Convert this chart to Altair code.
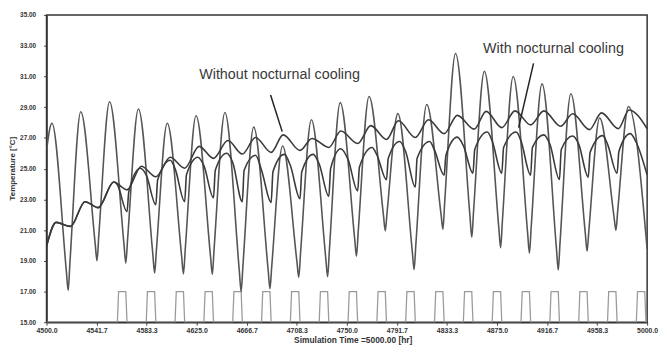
import altair as alt
import pandas as pd

# ---------------- data ----------------
# Outdoor (ambient) temperature: daily peaks (~16:30) and troughs (~06:00)
amb_start = [4500.0, 26.2]
amb_peak_t = [4504.5 + 24 * k for k in range(21)]
amb_peak_v = [27.95, 28.70, 29.35, 28.88, 27.95, 28.44, 28.65, 27.70, 26.47, 28.18,
              29.30, 29.70, 28.58, 29.17, 32.50, 31.33, 31.00, 30.52, 29.88, 28.30, 29.05]
amb_trough_t = [4518 + 24 * k for k in range(20)]
amb_trough_v = [17.08, 19.00, 18.85, 18.20, 18.15, 18.12, 17.00, 17.19, 17.93, 17.96,
                19.30, 20.95, 18.43, 21.05, 20.53, 19.85, 19.50, 18.40, 19.63, 20.98]
# values on the V flanks, 1.5 h before / after each trough
amb_pre_v = [18.33, 20.12, 20.06, 19.43, 19.28, 19.31, 18.34, 18.40, 18.91, 19.14,
             20.45, 21.96, 19.60, 21.98, 21.91, 21.17, 20.82, 19.79, 20.81, 21.82]
amb_post_v = [18.90, 20.62, 20.42, 19.73, 19.77, 19.77, 18.68, 18.65, 19.54, 19.74,
              20.93, 22.15, 20.12, 22.85, 22.23, 21.60, 21.23, 20.20, 20.99, 22.25]
amb_end = [5000.0, 19.75]

# Indoor, without nocturnal cooling
wo_t = [4500, 4508, 4520, 4532, 4543, 4556, 4567, 4579, 4591, 4603, 4615, 4627, 4639,
        4651, 4663, 4674, 4687, 4697, 4711, 4721, 4735, 4745, 4759, 4770, 4783, 4793,
        4807, 4818, 4831, 4842, 4856, 4866, 4879, 4890, 4903, 4914, 4928, 4938, 4952,
        4962, 4976, 4985, 5000]
wo_v = [19.95, 21.50, 21.24, 22.85, 22.46, 24.13, 23.62, 25.16, 24.47, 25.74, 25.03,
        26.45, 25.67, 26.83, 25.95, 27.03, 26.06, 27.20, 26.19, 26.96, 26.38, 27.45,
        26.64, 27.80, 26.90, 28.12, 27.03, 28.18, 27.28, 28.47, 27.57, 28.73, 27.67,
        28.76, 27.85, 28.76, 27.76, 28.57, 27.54, 28.63, 27.60, 28.82, 27.60]

# Indoor, with nocturnal cooling
w_t = [4500, 4508, 4520, 4532, 4543, 4556, 4559,
       4567, 4568.5, 4578,
       4583, 4591, 4592.5, 4603,
       4607, 4615, 4616.5, 4626,
       4631, 4639, 4640.5, 4650,
       4655, 4663, 4664.5, 4674,
       4679, 4687, 4688.5, 4698,
       4703, 4711, 4712.5, 4722,
       4727, 4735, 4736.5, 4745,
       4751, 4759, 4760.5, 4771,
       4775, 4783, 4784.5, 4794,
       4799, 4807, 4808.5, 4819,
       4823, 4831, 4832.5, 4842,
       4847, 4855, 4856.5, 4867,
       4871, 4879, 4880.5, 4891,
       4895, 4903, 4904.5, 4914,
       4919, 4927, 4928.5, 4938,
       4943, 4951, 4952.5, 4963,
       4967, 4975, 4976.5, 4986,
       4991, 5000]
w_v = [19.95, 21.50, 21.24, 22.85, 22.46, 24.13, 23.95,
       22.20, 23.50, 25.03,
       24.60, 22.65, 24.26, 25.55,
       25.00, 22.85, 24.60, 25.74,
       25.20, 23.10, 24.90, 26.00,
       25.40, 22.85, 24.90, 25.87,
       24.90, 22.80, 24.80, 25.93,
       25.20, 23.04, 24.80, 25.93,
       25.30, 23.20, 25.00, 26.30,
       25.60, 23.55, 25.10, 26.38,
       25.90, 24.28, 25.67, 26.77,
       26.10, 23.80, 25.67, 26.77,
       26.20, 24.58, 25.87, 27.05,
       26.50, 24.70, 26.25, 27.38,
       26.80, 24.70, 26.38, 27.38,
       26.80, 24.58, 26.38, 27.20,
       26.60, 24.30, 26.25, 27.12,
       26.60, 24.45, 26.06, 27.15,
       26.60, 24.70, 26.12, 27.28,
       26.70, 24.58]

# Night ventilation schedule (on = 17, off = 15)
pulse_start = [4559, 4583, 4607, 4631, 4655, 4679, 4703, 4727, 4751, 4775,
               4799, 4823, 4847, 4871, 4895, 4919, 4943, 4967, 4991]
pulse_off, pulse_on = 15.0, 17.0

x_ticks = [4500.0, 4541.667, 4583.333, 4625.0, 4666.667, 4708.333, 4750.0,
           4791.667, 4833.333, 4875.0, 4916.667, 4958.333, 5000.0]
y_ticks = [15, 17, 19, 21, 23, 25, 27, 29, 31, 33, 35]

labels = ["Without nocturnal cooling", "With nocturnal cooling"]
label_t = [4694.0, 4922.0]
label_v = [31.08, 32.81]
arrow_t = [4686.5, 4905.4]
arrow_v = [29.79, 31.85]
arrow_t2 = [4696.2, 4893.0]
arrow_v2 = [27.41, 27.67]

# ---------------- build tables ----------------
amb_rows = [amb_start]
for k in range(21):
    amb_rows.append([amb_peak_t[k], amb_peak_v[k]])
    if k < 20:
        tt = amb_trough_t[k]
        amb_rows.append([tt - 1.5, amb_pre_v[k]])
        amb_rows.append([tt, amb_trough_v[k]])
        amb_rows.append([tt + 1.5, amb_post_v[k]])
amb_rows.append(amb_end)
amb = pd.DataFrame(amb_rows, columns=["t", "T"])

wo = pd.DataFrame({"t": wo_t, "T": wo_v})
wc = pd.DataFrame({"t": w_t, "T": w_v})

p_rows = [[4500.0, pulse_off]]
for s in pulse_start:
    p_rows += [[s, pulse_off], [s + 1, pulse_on], [s + 7, pulse_on], [s + 8, pulse_off]]
p_rows.append([5000.0, pulse_off])
pulse = pd.DataFrame(p_rows, columns=["t", "T"])

ann = pd.DataFrame({"label": labels, "t": label_t, "T": label_v})
arr = pd.DataFrame({"t": arrow_t, "T": arrow_v, "t2": arrow_t2, "T2": arrow_v2})

FONT = "Liberation Sans"
xs = alt.Scale(domain=[4500, 5000], nice=False, zero=False)
ys = alt.Scale(domain=[15, 35], nice=False, zero=False)

x_axis = alt.Axis(
    values=x_ticks, format=".1f", title="Simulation Time =5000.00 [hr]",
    labelFontSize=7, labelFontWeight="bold", labelColor="#333", labelPadding=1,
    labelOverlap=False, tickSize=3, tickColor="#444", domainColor="#333", domainWidth=1.5,
    titleFontSize=8.5, titleFontWeight="bold", titleColor="#333", titlePadding=2,
    titleX=310, grid=False, labelFlush=False)
y_axis = alt.Axis(
    values=y_ticks, format=".2f", title="Temperature [°C]",
    labelFontSize=6.5, labelFontWeight="bold", labelColor="#333", labelPadding=8,
    labelOverlap=False, labelBound=False, tickSize=3, tickColor="#444",
    domainColor="#333", domainWidth=1.5,
    titleFontSize=8, titleFontWeight="bold", titleColor="#333",
    titleX=-34, titleY=155, titleAngle=270, titleAlign="center", titleBaseline="middle",
    grid=False)

X = alt.X("t:Q", scale=xs, axis=x_axis)
Y = alt.Y("T:Q", scale=ys, axis=y_axis)

base_line = dict(strokeWidth=1.6, clip=True)
l_amb = alt.Chart(amb).mark_line(color="#555555", interpolate="monotone", **base_line).encode(x=X, y=Y)
l_wo = alt.Chart(wo).mark_line(color="#3a3a3a", interpolate="monotone", **base_line).encode(x=X, y=Y)
l_w = alt.Chart(wc).mark_line(color="#3a3a3a", interpolate="monotone", **base_line).encode(x=X, y=Y)
l_p = alt.Chart(pulse).mark_line(color="#9a9a9a", strokeWidth=1.3, clip=True).encode(x=X, y=Y)

txt = alt.Chart(ann).mark_text(font=FONT, fontSize=14.5, color="#3a3a3a", align="center",
                               baseline="middle").encode(x=X, y=Y, text="label:N")
rul = alt.Chart(arr).mark_rule(color="#222", strokeWidth=1.5).encode(
    x=X, y=Y, x2="t2:Q", y2="T2:Q")

chart = alt.layer(l_p, l_amb, l_wo, l_w, rul, txt).properties(
    width=608, height=311,
    autosize=alt.AutoSizeParams(type="none"),
    padding={"left": 39, "top": 5, "right": 12, "bottom": 28},
).configure(font=FONT, background="white").configure_view(stroke="#333", strokeWidth=1.5)

chart.save("out.html", embed_options={"renderer": "svg", "actions": False})
